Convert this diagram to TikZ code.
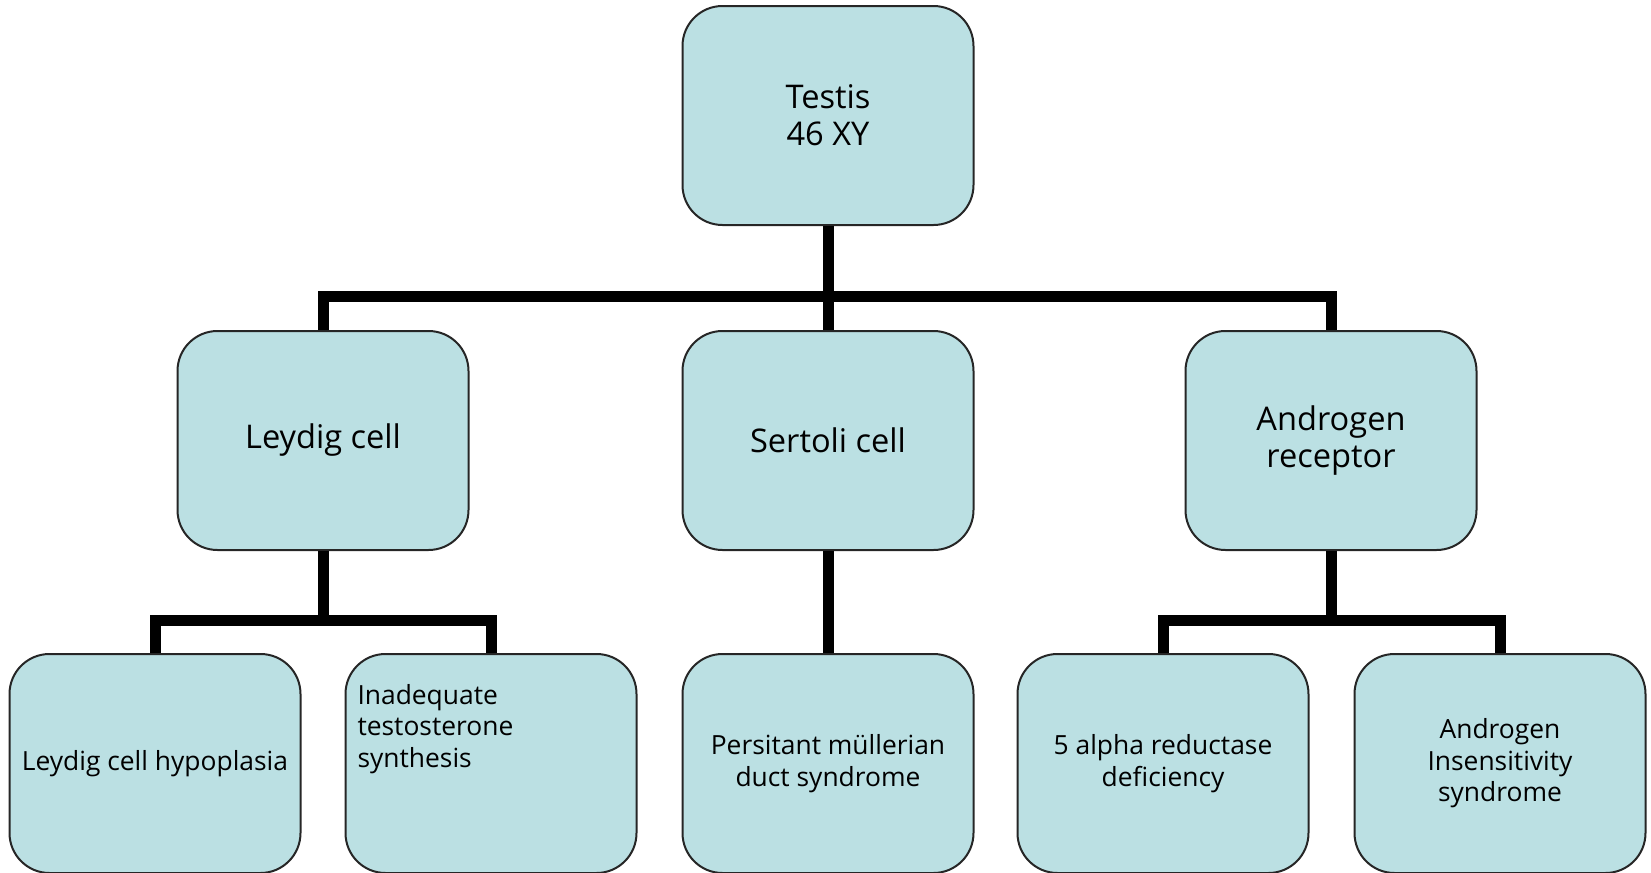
\documentclass[tikz,border=0pt]{standalone}
\usepackage{fontspec}
\setmainfont{Open Sans}
\definecolor{boxfill}{RGB}{187,224,227}
\tikzset{
    box/.style={draw=black!85, line width=1pt, fill=boxfill, rounded corners=20pt,
        minimum width=145.5pt, minimum height=109.5pt, inner sep=0pt, align=center,
        font=\fontsize{16.3}{18.5}\selectfont},
    leaf/.style={box, font=\fontsize{13.2}{15.8}\selectfont},
    link/.style={line width=5.5pt, line join=miter}
}
\begin{document}
\begin{tikzpicture}[x=0.5pt, y=-0.5pt]
    \useasboundingbox (0,0) rectangle (1651,873);

    % bars
    \coordinate (topbar) at (828,296);
    \coordinate (lbar) at (323,620);
    \coordinate (abar) at (1331,620);

    \node[box] (testis) at (828,115.5) {Testis\\46 XY};

    \node[box] (leydig) at (323,440.5) {Leydig cell};
    \node[box] (sertoli) at (828,440.5) {Sertoli cell};
    \node[box] (androgen) at (1331,440.5) {Androgen\\receptor};

    \node[leaf] (lhypo) at (155,763.5) {Leydig cell hypoplasia};
    \node[leaf] (itsyn) at (491,763.5) {};
    \node[leaf, draw=none, fill=none, minimum width=0pt, minimum height=0pt, anchor=north west, align=left]
        (itsyntext) at ([xshift=6pt, yshift=-15pt]itsyn.north west) {Inadequate\\testosterone\\synthesis};
    \node[leaf] (pmds) at (828,763.5) {Persitant müllerian\\duct syndrome};
    \node[leaf] (fard) at (1163,763.5) {5 alpha reductase\\deficiency};
    \node[leaf] (ais) at (1500,763.5) {Androgen\\Insensitivity\\syndrome};

    \draw[link] (testis.south) -- (sertoli.north);
    \draw[link] (leydig.north) |- (topbar) -| (androgen.north);

    \draw[link] (leydig.south) -- (leydig.south |- lbar);
    \draw[link] (lhypo.north) |- (lbar) -| (itsyn.north);

    \draw[link] (sertoli.south) -- (pmds.north);

    \draw[link] (androgen.south) -- (androgen.south |- abar);
    \draw[link] (fard.north) |- (abar) -| (ais.north);
\end{tikzpicture}
\end{document}
